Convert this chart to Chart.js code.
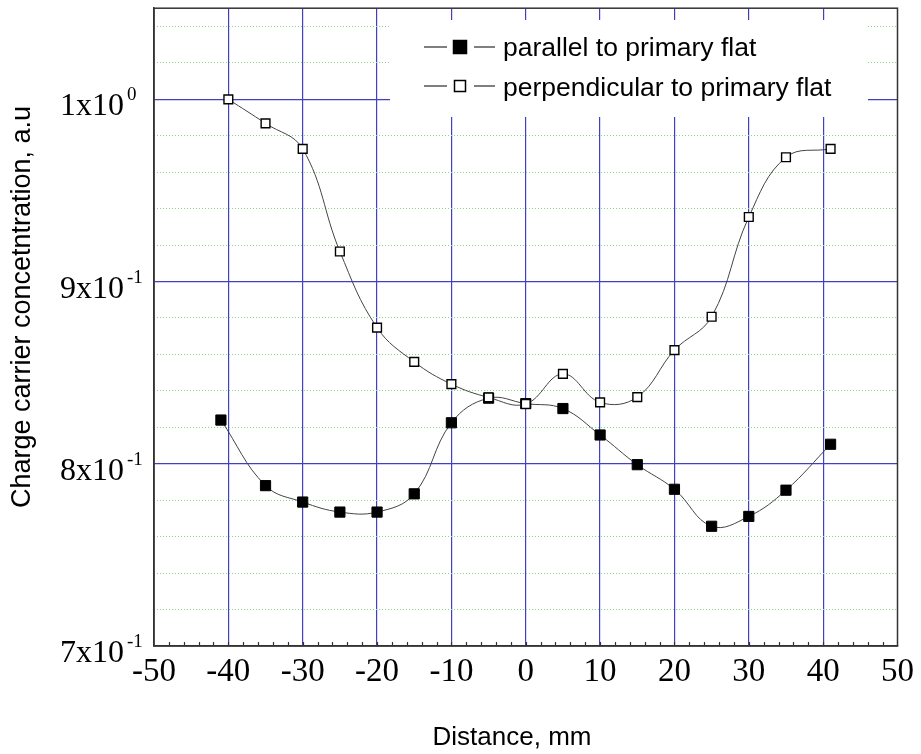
<!DOCTYPE html>
<html>
<head>
<meta charset="utf-8">
<script src="https://cdn.jsdelivr.net/npm/chart.js@4.4.1/dist/chart.umd.min.js"></script>
<style>
  html, body { margin: 0; padding: 0; background: #fff; }
  canvas { display: block; }
</style>
</head>
<body>
<canvas id="myChart" width="921" height="754"></canvas>
<script>
// Data
const xParallel = [-41, -35, -30, -25, -20, -15, -10, -5, 0, 5, 10, 15, 20, 25, 30, 35, 41];
const yParallel = [0.824, 0.788, 0.779, 0.7735, 0.7735, 0.7835, 0.8225, 0.836, 0.833, 0.8303, 0.8158, 0.7995, 0.786, 0.7657, 0.7711, 0.7855, 0.8107];

const xPerpendicular = [-40, -35, -30, -25, -20, -15, -10, -5, 0, 5, 10, 15, 20, 25, 30, 35, 41];
const yPerpendicular = [1.0, 0.9868, 0.9728, 0.9165, 0.8747, 0.8559, 0.8437, 0.8364, 0.8328, 0.8493, 0.8337, 0.8366, 0.8624, 0.8807, 0.9354, 0.9682, 0.9728];

const seriesLabels = ['parallel to primary flat', 'perpendicular to primary flat'];

// y tick labels: mantissa x10^exponent
const yTickValues = [0.7, 0.8, 0.9, 1.0];
const yTickMantissa = ['7x10', '8x10', '9x10', '1x10'];
const yTickExponent = ['-1', '-1', '-1', '0'];

const xTitle = 'Distance, mm';
const yTitle = 'Charge carrier concetntration, a.u';

const BLUE = '#4040c0';
const GREEN = '#8ad28a';
const FRAME = '#333333';

const isTenth = v => Math.abs(v * 10 - Math.round(v * 10)) < 1e-6;

const toPoints = (xs, ys) => xs.map((x, i) => ({ x: x, y: ys[i] }));

// extra drawing: legend box, frame, minor ticks, y labels, titles
const decorations = {
  id: 'decorations',
  beforeDatasetsDraw(chart) {
    const ctx = chart.ctx;
    ctx.save();
    ctx.fillStyle = '#fff';
    ctx.fillRect(390, 20, 478, 97);

    const rows = [
      { ds: chart.data.datasets[1], my: 47, base: 56, size: 13 },
      { ds: chart.data.datasets[0], my: 86, base: 96, size: 11 }
    ];
    rows.forEach(r => {
      ctx.strokeStyle = '#000';
      ctx.lineWidth = 1.2;
      ctx.beginPath();
      ctx.moveTo(424, r.my); ctx.lineTo(447, r.my);
      ctx.moveTo(474, r.my); ctx.lineTo(495, r.my);
      ctx.stroke();
      const h = r.size / 2;
      ctx.fillStyle = r.ds.backgroundColor;
      ctx.fillRect(460 - h, r.my - h, r.size, r.size);
      ctx.lineWidth = 1.5;
      ctx.strokeRect(460 - h, r.my - h, r.size, r.size);
      ctx.fillStyle = '#000';
      ctx.font = '26.5px "Liberation Sans", Arial, sans-serif';
      ctx.textAlign = 'left';
      ctx.textBaseline = 'alphabetic';
      ctx.fillText(r.ds.label, 503, r.base);
    });
    ctx.restore();
  },
  afterDraw(chart) {
    const ctx = chart.ctx;
    const a = chart.chartArea;
    const xs = chart.scales.x;
    const ys = chart.scales.y;
    ctx.save();

    // minor ticks on the bottom axis
    ctx.strokeStyle = FRAME;
    ctx.lineWidth = 1.2;
    ctx.beginPath();
    for (let v = -48; v <= 48; v += 2) {
      const px = Math.round(xs.getPixelForValue(v)) + 0.5;
      ctx.moveTo(px, a.bottom);
      ctx.lineTo(px, a.bottom - 4);
    }
    ctx.stroke();

    // frame
    ctx.lineWidth = 1.5;
    ctx.strokeRect(a.left, a.top, a.right - a.left, a.bottom - a.top);

    // y tick labels with superscript
    ctx.fillStyle = '#000';
    yTickValues.forEach((v, i) => {
      const py = ys.getPixelForValue(v);
      ctx.font = '32px "Liberation Serif", "Times New Roman", serif';
      ctx.textAlign = 'right';
      ctx.textBaseline = 'alphabetic';
      ctx.fillText(yTickMantissa[i], 124, py + 16);
      ctx.font = '19px "Liberation Serif", "Times New Roman", serif';
      ctx.textAlign = 'left';
      ctx.fillText(yTickExponent[i], 127, py + 1);
    });

    // axis titles
    ctx.font = '26px "Liberation Sans", Arial, sans-serif';
    ctx.textAlign = 'center';
    ctx.textBaseline = 'alphabetic';
    ctx.fillText(xTitle, 512, 745);
    ctx.translate(30, 307);
    ctx.rotate(-Math.PI / 2);
    ctx.font = '27px "Liberation Sans", Arial, sans-serif';
    ctx.fillText(yTitle, 0, 0);
    ctx.restore();
  }
};

const ctx = document.getElementById('myChart');

new Chart(ctx, {
  type: 'line',
  data: {
    datasets: [{
      label: seriesLabels[1],
      data: toPoints(xPerpendicular, yPerpendicular),
      borderColor: '#444',
      borderWidth: 1,
      tension: 0.4,
      pointStyle: 'rect',
      pointRadius: 6.2,
      pointBorderWidth: 1.4,
      pointBorderColor: '#000',
      pointBackgroundColor: '#fff',
      backgroundColor: '#fff',
      fill: false,
      order: 0
    }, {
      label: seriesLabels[0],
      data: toPoints(xParallel, yParallel),
      borderColor: '#444',
      borderWidth: 1,
      tension: 0.4,
      pointStyle: 'rect',
      pointRadius: 7.2,
      pointBorderWidth: 1,
      pointBorderColor: '#000',
      pointBackgroundColor: '#000',
      backgroundColor: '#000',
      fill: false,
      order: 1
    }]
  },
  options: {
    responsive: false,
    devicePixelRatio: 1,
    animation: false,
    layout: { padding: { left: 0, right: 19, top: 4, bottom: 0 } },
    plugins: {
      legend: { display: false },
      tooltip: { enabled: false }
    },
    scales: {
      x: {
        type: 'linear',
        min: -50,
        max: 50,
        ticks: {
          stepSize: 10,
          autoSkip: false,
          maxRotation: 0,
          padding: 7,
          color: '#000',
          font: { family: '"Liberation Serif", "Times New Roman", serif', size: 33 }
        },
        grid: {
          drawTicks: false,
          lineWidth: 1.2,
          color: c => (c.tick && Math.abs(c.tick.value) === 50) ? 'rgba(0,0,0,0)' : BLUE
        },
        border: { display: true, color: FRAME, width: 1.5 },
        afterFit: s => { s.height = 108; }
      },
      y: {
        min: 0.7,
        max: 1.05,
        ticks: { stepSize: 0.1, display: false },
        grid: {
          drawTicks: false,
          lineWidth: 1.2,
          color: c => (c.tick && isTenth(c.tick.value) && c.tick.value > 0.75) ? BLUE : 'rgba(0,0,0,0)'
        },
        border: { display: true, color: FRAME, width: 1.5 },
        afterFit: s => { s.width = 154; }
      },
      yMinor: {
        position: 'right',
        min: 0.7,
        max: 1.05,
        ticks: { stepSize: 0.02, display: false },
        grid: {
          drawTicks: false,
          lineWidth: 1,
          color: c => (c.tick && !isTenth(c.tick.value) && c.tick.value < 1.045) ? GREEN : 'rgba(0,0,0,0)'
        },
        border: { display: false, dash: [1, 2] },
        afterFit: s => { s.width = 0; }
      }
    }
  },
  plugins: [decorations]
});
</script>
</body>
</html>
